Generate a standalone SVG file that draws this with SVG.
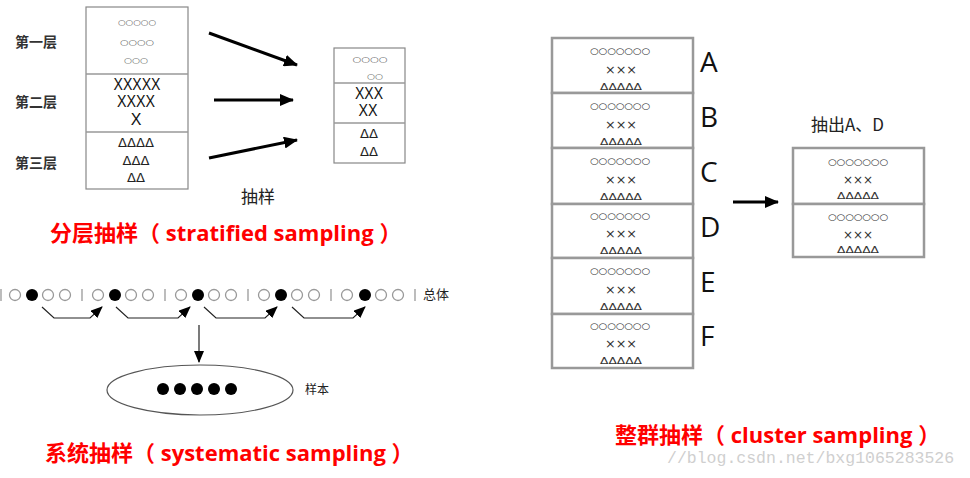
<svg xmlns="http://www.w3.org/2000/svg" width="970" height="478" viewBox="0 0 970 478">
<style>
.lbl{font-family:"Noto Sans CJK SC",sans-serif;font-size:14px;fill:#333;font-weight:bold}
.cn{font-family:"Noto Sans CJK SC",sans-serif;fill:#222}
.sym{font-family:"DejaVu Sans",sans-serif;fill:#555;text-anchor:middle;dominant-baseline:central}
.x{font-family:"Liberation Sans",sans-serif;font-size:16px;fill:#111;text-anchor:middle;dominant-baseline:central}
.tri{font-family:"DejaVu Sans",sans-serif;font-size:12px;fill:#222;text-anchor:middle;dominant-baseline:central}
.title{font-family:"Open Sans","Noto Sans CJK SC",sans-serif;font-weight:bold;font-size:22px;fill:#ff0000}
.box{fill:#fff;stroke:#888;stroke-width:1.2}
.cbox{fill:#fff;stroke:#999;stroke-width:2.5}
.thick{stroke:#000;stroke-width:3;fill:none}
.thin{stroke:#222;stroke-width:1.2;fill:none}
.oc{fill:#fff;stroke:#999;stroke-width:1.3}
.fc{fill:#000}
.sep{stroke:#999;stroke-width:1.3}
.letter{font-family:"Open Sans",sans-serif;font-size:28px;fill:#111}
.csym{font-family:"DejaVu Sans",sans-serif;fill:#333;text-anchor:middle;dominant-baseline:central}
</style>
<defs>
<marker id="big" markerUnits="userSpaceOnUse" markerWidth="14" markerHeight="12" refX="13" refY="6" orient="auto"><path d="M0,0 L14,6 L0,12 z" fill="#000"/></marker>
<marker id="small" markerUnits="userSpaceOnUse" markerWidth="12" markerHeight="10" refX="11" refY="5" orient="auto"><path d="M0,0 L12,5 L0,10 z" fill="#000"/></marker>
</defs>

<!-- Stratified sampling -->
<g id="strat-labels">
<text class="lbl" x="15" y="47">第一层</text>
<text class="lbl" x="15" y="107">第二层</text>
<text class="lbl" x="15" y="168">第三层</text>
</g>
<g id="strat-population">
<rect class="box" x="86" y="7" width="102" height="182"/>
<line class="sep" x1="86" y1="74" x2="188" y2="74" stroke="#777"/>
<line class="sep" x1="86" y1="132" x2="188" y2="132" stroke="#777"/>
<text class="sym" font-size="8" x="137" y="22" textLength="38" lengthAdjust="spacingAndGlyphs">○○○○○</text>
<text class="sym" font-size="8" x="137" y="42" textLength="34" lengthAdjust="spacingAndGlyphs">○○○○</text>
<text class="sym" font-size="8" x="136" y="60" textLength="24" lengthAdjust="spacingAndGlyphs">○○○</text>
<text class="x" x="137" y="84" textLength="47" lengthAdjust="spacingAndGlyphs">XXXXX</text>
<text class="x" x="136" y="101" textLength="38" lengthAdjust="spacingAndGlyphs">XXXX</text>
<text class="x" x="136" y="119">X</text>
<text class="tri" x="136" y="143" textLength="36" lengthAdjust="spacingAndGlyphs">ΔΔΔΔ</text>
<text class="tri" x="136" y="161" textLength="27" lengthAdjust="spacingAndGlyphs">ΔΔΔ</text>
<text class="tri" x="136" y="178" textLength="18" lengthAdjust="spacingAndGlyphs">ΔΔ</text>
</g>
<g id="strat-sample">
<rect class="box" x="334" y="48" width="71" height="115"/>
<line class="sep" x1="334" y1="83" x2="405" y2="83" stroke="#777"/>
<line class="sep" x1="334" y1="123" x2="405" y2="123" stroke="#777"/>
<text class="sym" font-size="8" x="370" y="59" textLength="35" lengthAdjust="spacingAndGlyphs">○○○○</text>
<text class="sym" font-size="8" x="375" y="76" textLength="16" lengthAdjust="spacingAndGlyphs">○○</text>
<text class="x" x="369" y="93" textLength="28" lengthAdjust="spacingAndGlyphs">XXX</text>
<text class="x" x="368" y="110" textLength="19" lengthAdjust="spacingAndGlyphs">XX</text>
<text class="tri" x="369" y="134" textLength="18" lengthAdjust="spacingAndGlyphs">ΔΔ</text>
<text class="tri" x="369" y="152" textLength="18" lengthAdjust="spacingAndGlyphs">ΔΔ</text>
</g>
<g id="strat-connectors">
<line class="thick" x1="209" y1="33" x2="297" y2="65" marker-end="url(#big)"/>
<line class="thick" x1="214" y1="100" x2="293" y2="100" marker-end="url(#big)"/>
<line class="thick" x1="209" y1="158" x2="297" y2="140" marker-end="url(#big)"/>
</g>
<text class="cn" x="241" y="203" font-size="17">抽样</text>
<text class="title" x="50" y="241">分层抽样（ stratified sampling ）</text>

<!-- Systematic sampling -->
<g id="sys-population">
<line class="sep" x1="1" y1="289" x2="1" y2="301"/>
<circle class="oc" cx="15" cy="295" r="5.5"/><circle class="fc" cx="32" cy="295" r="6"/><circle class="oc" cx="48" cy="295" r="5.5"/><circle class="oc" cx="65" cy="295" r="5.5"/>
<line class="sep" x1="82" y1="289" x2="82" y2="301"/>
<circle class="oc" cx="98" cy="295" r="5.5"/><circle class="fc" cx="115" cy="295" r="6"/><circle class="oc" cx="131" cy="295" r="5.5"/><circle class="oc" cx="148" cy="295" r="5.5"/>
<line class="sep" x1="165" y1="289" x2="165" y2="301"/>
<circle class="oc" cx="181" cy="295" r="5.5"/><circle class="fc" cx="198" cy="295" r="6"/><circle class="oc" cx="214" cy="295" r="5.5"/><circle class="oc" cx="231" cy="295" r="5.5"/>
<line class="sep" x1="248" y1="289" x2="248" y2="301"/>
<circle class="oc" cx="264" cy="295" r="5.5"/><circle class="fc" cx="281" cy="295" r="6"/><circle class="oc" cx="297" cy="295" r="5.5"/><circle class="oc" cx="314" cy="295" r="5.5"/>
<line class="sep" x1="331" y1="289" x2="331" y2="301"/>
<circle class="oc" cx="347" cy="295" r="5.5"/><circle class="fc" cx="365" cy="295" r="6"/><circle class="oc" cx="381" cy="295" r="5.5"/><circle class="oc" cx="398" cy="295" r="5.5"/>
<line class="sep" x1="415" y1="289" x2="415" y2="301"/>
<text class="cn" x="423" y="299" font-size="13">总体</text>
</g>
<g id="sys-connectors">
<polyline class="thin" points="42,307 54,318 90,318 102,307" marker-end="url(#small)"/>
<polyline class="thin" points="116,307 128,318 178,318 190,307" marker-end="url(#small)"/>
<polyline class="thin" points="204,307 216,318 265,318 277,307" marker-end="url(#small)"/>
<polyline class="thin" points="292,307 304,318 353,318 365,307" marker-end="url(#small)"/>
<line class="thin" x1="199" y1="325" x2="199" y2="362" marker-end="url(#small)"/>
</g>
<g id="sys-sample">
<ellipse cx="200" cy="390" rx="93" ry="25" fill="#fff" stroke="#555" stroke-width="1.2"/>
<circle class="fc" cx="163" cy="389" r="6"/><circle class="fc" cx="180" cy="389" r="6"/><circle class="fc" cx="197" cy="389" r="6"/><circle class="fc" cx="214" cy="389" r="6"/><circle class="fc" cx="231" cy="389" r="6"/>
<text class="cn" x="305" y="394" font-size="12">样本</text>
</g>
<text class="title" x="45" y="461">系统抽样（ systematic sampling ）</text>

<!-- Cluster sampling -->
<g id="cluster-population">
<g id="row-A">
<rect class="cbox" x="552" y="38" width="141" height="55"/>
<text class="csym" font-size="9" x="620" y="51" textLength="60" lengthAdjust="spacingAndGlyphs">○○○○○○○</text>
<text class="csym" font-size="12" x="621" y="70" textLength="32" lengthAdjust="spacingAndGlyphs">×××</text>
<text class="csym" font-size="8" x="621" y="87" textLength="42" lengthAdjust="spacingAndGlyphs">ΔΔΔΔΔ</text>
<text class="letter" x="700" y="72">A</text>
</g>
<g id="row-B">
<rect class="cbox" x="552" y="93" width="141" height="55"/>
<text class="csym" font-size="9" x="620" y="106" textLength="60" lengthAdjust="spacingAndGlyphs">○○○○○○○</text>
<text class="csym" font-size="12" x="621" y="125" textLength="32" lengthAdjust="spacingAndGlyphs">×××</text>
<text class="csym" font-size="8" x="621" y="142" textLength="42" lengthAdjust="spacingAndGlyphs">ΔΔΔΔΔ</text>
<text class="letter" x="700" y="127">B</text>
</g>
<g id="row-C">
<rect class="cbox" x="552" y="148" width="141" height="56"/>
<text class="csym" font-size="9" x="620" y="161" textLength="60" lengthAdjust="spacingAndGlyphs">○○○○○○○</text>
<text class="csym" font-size="12" x="621" y="180" textLength="32" lengthAdjust="spacingAndGlyphs">×××</text>
<text class="csym" font-size="8" x="621" y="197" textLength="42" lengthAdjust="spacingAndGlyphs">ΔΔΔΔΔ</text>
<text class="letter" x="700" y="182">C</text>
</g>
<g id="row-D">
<rect class="cbox" x="552" y="204" width="141" height="54"/>
<text class="csym" font-size="9" x="620" y="216" textLength="60" lengthAdjust="spacingAndGlyphs">○○○○○○○</text>
<text class="csym" font-size="12" x="621" y="234" textLength="32" lengthAdjust="spacingAndGlyphs">×××</text>
<text class="csym" font-size="8" x="621" y="251" textLength="42" lengthAdjust="spacingAndGlyphs">ΔΔΔΔΔ</text>
<text class="letter" x="700" y="237">D</text>
</g>
<g id="row-E">
<rect class="cbox" x="552" y="258" width="141" height="56"/>
<text class="csym" font-size="9" x="620" y="271" textLength="60" lengthAdjust="spacingAndGlyphs">○○○○○○○</text>
<text class="csym" font-size="12" x="621" y="290" textLength="32" lengthAdjust="spacingAndGlyphs">×××</text>
<text class="csym" font-size="8" x="621" y="307" textLength="42" lengthAdjust="spacingAndGlyphs">ΔΔΔΔΔ</text>
<text class="letter" x="700" y="292">E</text>
</g>
<g id="row-F">
<rect class="cbox" x="552" y="314" width="141" height="54"/>
<text class="csym" font-size="9" x="620" y="326" textLength="60" lengthAdjust="spacingAndGlyphs">○○○○○○○</text>
<text class="csym" font-size="12" x="621" y="344" textLength="32" lengthAdjust="spacingAndGlyphs">×××</text>
<text class="csym" font-size="8" x="621" y="361" textLength="42" lengthAdjust="spacingAndGlyphs">ΔΔΔΔΔ</text>
<text class="letter" x="700" y="346">F</text>
</g>
</g>
<g id="cluster-connectors">
<line class="thick" x1="733" y1="202" x2="778" y2="202" marker-end="url(#big)"/>
</g>
<text class="cn" x="811" y="131" font-size="17">抽出A、D</text>
<g id="cluster-sample">
<rect class="cbox" x="793" y="148" width="131" height="56"/>
<rect class="cbox" x="793" y="204" width="131" height="53"/>
<text class="csym" font-size="9" x="858" y="162" textLength="60" lengthAdjust="spacingAndGlyphs">○○○○○○○</text>
<text class="csym" font-size="12" x="858" y="180" textLength="30" lengthAdjust="spacingAndGlyphs">×××</text>
<text class="csym" font-size="8" x="858" y="196" textLength="42" lengthAdjust="spacingAndGlyphs">ΔΔΔΔΔ</text>
<text class="csym" font-size="9" x="858" y="217" textLength="60" lengthAdjust="spacingAndGlyphs">○○○○○○○</text>
<text class="csym" font-size="12" x="858" y="235" textLength="30" lengthAdjust="spacingAndGlyphs">×××</text>
<text class="csym" font-size="8" x="858" y="250" textLength="42" lengthAdjust="spacingAndGlyphs">ΔΔΔΔΔ</text>
</g>
<text class="title" x="615" y="443">整群抽样（ cluster sampling ）</text>
<text x="667" y="463" font-family="Liberation Mono, monospace" font-size="16.5" fill="#cfcfcf">//blog.csdn.net/bxg1065283526</text>
</svg>
